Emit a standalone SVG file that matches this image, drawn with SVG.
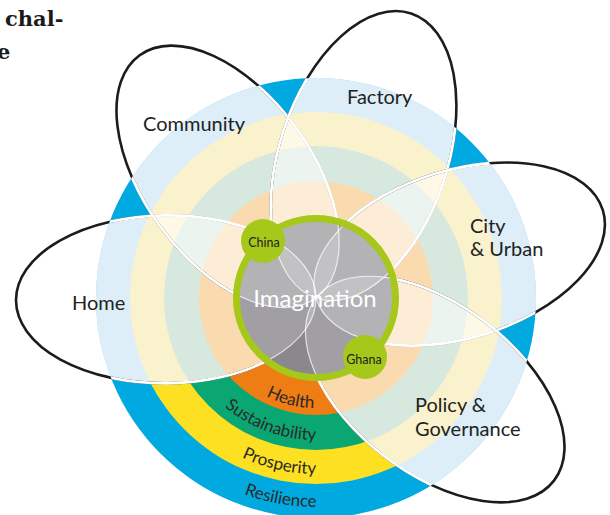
<svg xmlns="http://www.w3.org/2000/svg" xmlns:xlink="http://www.w3.org/1999/xlink" width="610" height="515" viewBox="0 0 610 515">
<style>
.lbl{font-family:Lato,"Liberation Sans",sans-serif;font-size:20px;fill:#222}
.rt{font-family:Lato,"Liberation Sans",sans-serif;font-size:17px;fill:#2a2a2a}
.pf{fill:#fff;fill-opacity:0.5}
.pk{fill:none;stroke:#1c1c1c;stroke-width:2.6}
.pw{fill:none;stroke:#fff;stroke-width:2.8}
.gf{fill:#fff;fill-opacity:0.2}
.gl{fill:none;stroke:#fff;stroke-opacity:0.75;stroke-width:1.2}
.serif{font-family:"DejaVu Serif","Liberation Serif",serif;font-size:21px;font-weight:bold;fill:#1a1a1a}
</style>
<defs>
<ellipse id="e" cx="0" cy="0" rx="150" ry="84"/>
<clipPath id="inR"><circle cx="316" cy="298" r="220"/></clipPath>
<clipPath id="inG"><circle cx="316" cy="298" r="79"/></clipPath>
<clipPath id="petals">
<use xlink:href="#e" transform="translate(166,299.3) rotate(-0.5)"/>
<use xlink:href="#e" transform="translate(227.8,176.6) rotate(-126)"/>
<use xlink:href="#e" transform="translate(363.6,155.8) rotate(-71.5)"/>
<use xlink:href="#e" transform="translate(459.4,254.1) rotate(-17)"/>
<use xlink:href="#e" transform="translate(435,389.3) rotate(37.5)"/>
</clipPath>
<path id="aH" d="M227,362.7 A110,110 0 0 0 364.2,396.9"/>
<path id="aS" d="M193,369 A142,142 0 0 0 364.6,431.4"/>
<path id="aP" d="M176.4,405.1 A176,176 0 0 0 397.3,454.1"/>
<path id="aR" d="M155.9,432.3 A209,209 0 0 0 420.5,479"/>
</defs>
<text class="serif" x="5" y="26">chal-</text>
<text class="serif" x="-3" y="59">e</text>
<g id="rings">
<circle cx="316" cy="298" r="220" fill="#00a9e0"/>
<circle cx="316" cy="298" r="186" fill="#fde021"/>
<circle cx="316" cy="298" r="152" fill="#0aa772"/>
<circle cx="316" cy="298" r="117" fill="#ee7d14"/>
<g clip-path="url(#petals)">
<circle cx="316" cy="298" r="220" fill="#bdddf1"/>
<circle cx="316" cy="298" r="186" fill="#f5e59b"/>
<circle cx="316" cy="298" r="152" fill="#afd1bd"/>
<circle cx="316" cy="298" r="117" fill="#f5b55f"/>
</g>
<text class="rt"><textPath xlink:href="#aH" startOffset="50%" text-anchor="middle">Health</textPath></text>
<text class="rt"><textPath xlink:href="#aS" startOffset="50%" text-anchor="middle">Sustainability</textPath></text>
<text class="rt"><textPath xlink:href="#aP" startOffset="50%" text-anchor="middle">Prosperity</textPath></text>
<text class="rt"><textPath xlink:href="#aR" startOffset="50%" text-anchor="middle">Resilience</textPath></text>
</g>
<g id="home">
<use xlink:href="#e" class="pf" transform="translate(166,299.3) rotate(-0.5)"/>
<use xlink:href="#e" class="pk" transform="translate(166,299.3) rotate(-0.5)"/>
<g clip-path="url(#inR)"><use xlink:href="#e" class="pw" transform="translate(166,299.3) rotate(-0.5)"/></g>
<text class="lbl" x="72" y="310">Home</text>
</g>
<g id="community">
<use xlink:href="#e" class="pf" transform="translate(227.8,176.6) rotate(-126)"/>
<use xlink:href="#e" class="pk" transform="translate(227.8,176.6) rotate(-126)"/>
<g clip-path="url(#inR)"><use xlink:href="#e" class="pw" transform="translate(227.8,176.6) rotate(-126)"/></g>
<text class="lbl" x="143" y="131">Community</text>
</g>
<g id="factory">
<use xlink:href="#e" class="pf" transform="translate(363.6,155.8) rotate(-71.5)"/>
<use xlink:href="#e" class="pk" transform="translate(363.6,155.8) rotate(-71.5)"/>
<g clip-path="url(#inR)"><use xlink:href="#e" class="pw" transform="translate(363.6,155.8) rotate(-71.5)"/></g>
<text class="lbl" x="347" y="104">Factory</text>
</g>
<g id="city">
<use xlink:href="#e" class="pf" transform="translate(459.4,254.1) rotate(-17)"/>
<use xlink:href="#e" class="pk" transform="translate(459.4,254.1) rotate(-17)"/>
<g clip-path="url(#inR)"><use xlink:href="#e" class="pw" transform="translate(459.4,254.1) rotate(-17)"/></g>
<text class="lbl" x="470" y="233">City</text>
<text class="lbl" x="470" y="256">&amp; Urban</text>
</g>
<g id="policy">
<use xlink:href="#e" class="pf" transform="translate(435,389.3) rotate(37.5)"/>
<use xlink:href="#e" class="pk" transform="translate(435,389.3) rotate(37.5)"/>
<g clip-path="url(#inR)"><use xlink:href="#e" class="pw" transform="translate(435,389.3) rotate(37.5)"/></g>
<text class="lbl" x="415" y="412">Policy &amp;</text>
<text class="lbl" x="415" y="436">Governance</text>
</g>
<g id="imagination">
<circle cx="316" cy="298" r="79" fill="#8a888c"/>
<g clip-path="url(#inG)">
<use xlink:href="#e" class="gf" transform="translate(166,299.3) rotate(-0.5)"/>
<use xlink:href="#e" class="gf" transform="translate(227.8,176.6) rotate(-126)"/>
<use xlink:href="#e" class="gf" transform="translate(363.6,155.8) rotate(-71.5)"/>
<use xlink:href="#e" class="gf" transform="translate(459.4,254.1) rotate(-17)"/>
<use xlink:href="#e" class="gf" transform="translate(435,389.3) rotate(37.5)"/>
<use xlink:href="#e" class="gl" transform="translate(166,299.3) rotate(-0.5)"/>
<use xlink:href="#e" class="gl" transform="translate(227.8,176.6) rotate(-126)"/>
<use xlink:href="#e" class="gl" transform="translate(363.6,155.8) rotate(-71.5)"/>
<use xlink:href="#e" class="gl" transform="translate(459.4,254.1) rotate(-17)"/>
<use xlink:href="#e" class="gl" transform="translate(435,389.3) rotate(37.5)"/>
</g>
<circle cx="316" cy="298" r="79.5" fill="none" stroke="#a6c81a" stroke-width="7"/>
<text x="315" y="307" text-anchor="middle" font-family="Lato,'Liberation Sans',sans-serif" font-size="24" fill="#fff">Imagination</text>
</g>
<g id="china">
<circle cx="263" cy="241" r="22" fill="#a6c81a"/>
<text x="264" y="247" text-anchor="middle" font-family="Lato,'Liberation Sans',sans-serif" font-size="12.5" fill="#222">China</text>
</g>
<g id="ghana">
<circle cx="365" cy="357" r="22" fill="#a6c81a"/>
<text x="364" y="364" text-anchor="middle" font-family="Lato,'Liberation Sans',sans-serif" font-size="12.5" fill="#222">Ghana</text>
</g>
</svg>
